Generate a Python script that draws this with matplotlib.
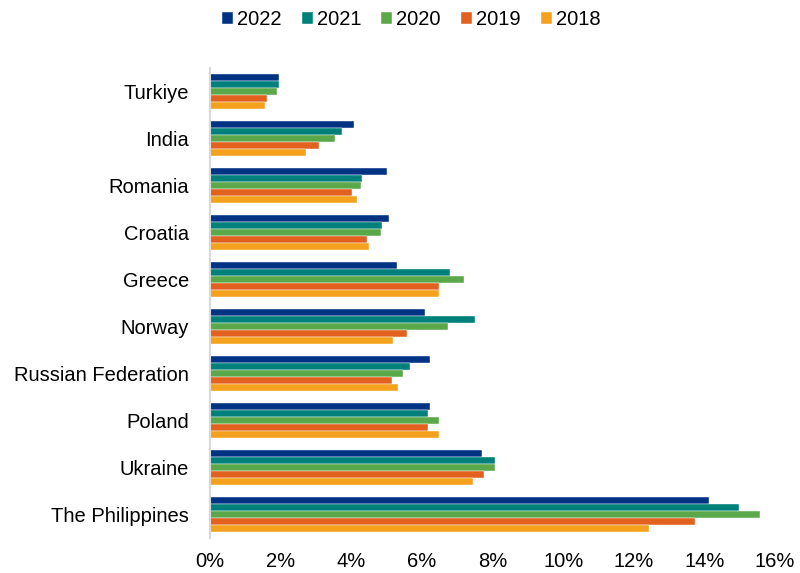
import numpy as np
import matplotlib.pyplot as plt
from matplotlib.ticker import FuncFormatter

plt.rcParams['font.family'] = ['Liberation Sans', 'DejaVu Sans']

countries = ['Turkiye', 'India', 'Romania', 'Croatia', 'Greece', 'Norway',
			 'Russian Federation', 'Poland', 'Ukraine', 'The Philippines']
years = ['2022', '2021', '2020', '2019', '2018']

# share in %, one list per year, same order as countries
v2022 = [1.95, 4.09, 5.01, 5.08, 5.29, 6.10, 6.24, 6.24, 7.69, 14.12]
v2021 = [1.95, 3.75, 4.31, 4.87, 6.81, 7.51, 5.65, 6.18, 8.07, 14.97]
v2020 = [1.91, 3.53, 4.27, 4.84, 7.20, 6.73, 5.47, 6.49, 8.07, 15.58]
v2019 = [1.62, 3.10, 4.03, 4.45, 6.49, 5.57, 5.15, 6.18, 7.75, 13.72]
v2018 = [1.56, 2.72, 4.16, 4.51, 6.49, 5.18, 5.33, 6.49, 7.44, 12.42]

series = [v2022, v2021, v2020, v2019, v2018]
colors = ['#003384', '#00807A', '#5BA84A', '#E2611F', '#F4A21E']

fig = plt.figure(figsize=(8, 5.73), dpi=100)
ax = fig.add_axes([0.2625, 0.061, 0.7063, 0.82])

y = np.arange(len(countries))
h = 0.149
for i, (vals, c, yr) in enumerate(zip(series, colors, years)):
	ax.barh(y + (i - 2) * h, vals, height=h, color=c, label=yr,
			edgecolor='white', linewidth=0.3)

ax.set_ylim(len(countries) - 0.5, -0.5)
ax.set_xlim(0, 16)
ax.set_xticks(np.arange(0, 17, 2))
ax.xaxis.set_major_formatter(FuncFormatter(lambda v, p: '%d%%' % v))
ax.set_yticks(y)
ax.set_yticklabels(countries)

for s in ['top', 'right', 'bottom']:
	ax.spines[s].set_visible(False)
ax.spines['left'].set_color('#D9D9D9')
ax.spines['left'].set_linewidth(1.5)
ax.tick_params(axis='both', length=0, labelsize=14.5, colors='#000000')
ax.tick_params(axis='x', pad=10)
ax.tick_params(axis='y', pad=15)

ax.legend(loc='upper center', bbox_to_anchor=(0.514, 1.014), bbox_transform=fig.transFigure,
		  ncol=5, frameon=False, fontsize=14.5, handlelength=0.55, handleheight=0.55,
		  handletextpad=0.2, columnspacing=1.0)

plt.savefig('out.png', dpi=100)
